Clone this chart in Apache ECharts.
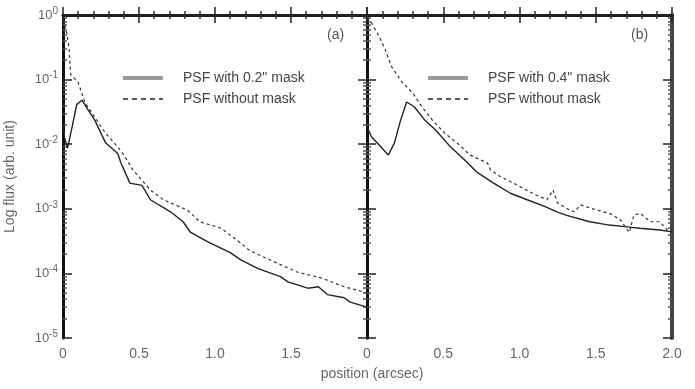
<!DOCTYPE html>
<html>
<head>
<meta charset="utf-8">
<script src="https://cdn.jsdelivr.net/npm/echarts@6/dist/echarts.min.js"></script>
<style>html,body{margin:0;padding:0;background:#fff}#c{width:695px;height:389px}</style>
</head>
<body>
<div id="c"></div>
<script>
// ---- data ----
var nameMaskA = 'PSF with 0.2" mask';
var nameMaskB = 'PSF with 0.4" mask';
var nameOpen = 'PSF without mask';
var panelTags = ['(a)', '(b)'];
var xTickLabelsA = ['0', '0.5', '1.0', '1.5'];
var xTickLabelsB = ['0', '0.5', '1.0', '1.5', '2.0'];
var yDecades = [-5, -4, -3, -2, -1, 0];

var posMaskA = [0, 0.01, 0.03, 0.06, 0.09, 0.11, 0.125, 0.165, 0.21, 0.28, 0.36, 0.38, 0.44, 0.52, 0.575, 0.71, 0.79, 0.84, 0.95, 1.10, 1.17, 1.28, 1.43, 1.48, 1.61, 1.68, 1.74, 1.85, 1.89, 2.0];
var valMaskA = [0.020, 0.0126, 0.0087, 0.0186, 0.041, 0.045, 0.048, 0.034, 0.0234, 0.0105, 0.0072, 0.0052, 0.0025, 0.0023, 0.00138, 0.00089, 0.00063, 0.00043, 0.00031, 0.00021, 0.000162, 0.00012, 0.000089, 0.000074, 0.000059, 0.000062, 0.000047, 0.000042, 0.000036, 0.00003];

var posOpenA = [0, 0.01, 0.026, 0.04, 0.05, 0.1, 0.145, 0.21, 0.28, 0.36, 0.41, 0.46, 0.575, 0.66, 0.82, 0.9, 1.04, 1.15, 1.23, 1.39, 1.54, 1.7, 1.85, 2.0];
var valOpenA = [0.85, 0.8, 0.52, 0.3, 0.12, 0.09, 0.044, 0.026, 0.0148, 0.0091, 0.0063, 0.004, 0.00195, 0.00138, 0.00095, 0.00063, 0.0005, 0.00032, 0.000224, 0.000151, 0.000105, 0.000085, 0.000062, 0.00005];

var posMaskB = [0, 0.03, 0.066, 0.14, 0.18, 0.22, 0.26, 0.31, 0.38, 0.45, 0.54, 0.63, 0.72, 0.83, 0.94, 1.05, 1.16, 1.25, 1.31, 1.46, 1.59, 1.72, 1.79, 1.92, 2.0];
var valMaskB = [0.0186, 0.0129, 0.0105, 0.0068, 0.0105, 0.0234, 0.045, 0.038, 0.0234, 0.0166, 0.0095, 0.006, 0.0037, 0.0025, 0.00174, 0.00138, 0.0011, 0.00089, 0.00079, 0.00063, 0.00056, 0.00052, 0.0005, 0.00047, 0.00044];

var posOpenB = [0, 0.03, 0.08, 0.12, 0.16, 0.23, 0.3, 0.36, 0.43, 0.51, 0.6, 0.675, 0.79, 0.81, 0.87, 0.96, 1.02, 1.11, 1.18, 1.22, 1.25, 1.33, 1.36, 1.40, 1.44, 1.51, 1.59, 1.66, 1.72, 1.75, 1.79, 1.86, 1.92, 1.97, 2.0];
var valOpenB = [0.9, 0.76, 0.46, 0.29, 0.16, 0.091, 0.062, 0.038, 0.0234, 0.0148, 0.01, 0.0068, 0.0051, 0.004, 0.0032, 0.0025, 0.0021, 0.00162, 0.00138, 0.00195, 0.00123, 0.00095, 0.0009, 0.00115, 0.00107, 0.00095, 0.00085, 0.00068, 0.00043, 0.0008, 0.00085, 0.00063, 0.00063, 0.00047, 0.0005];

// ---- build ----
function pairs(xs, ys) { return xs.map(function (x, i) { return [x, ys[i]]; }); }
var minorLog = [];
yDecades.forEach(function (d) {
  if (d < 0) for (var k = 2; k <= 9; k++) minorLog.push(d + Math.log10(k));
});

var FONT = 'Liberation Sans, Arial, sans-serif';
var AX = '#111';
var GRID_TOP = 15, GRID_H = 323;

function xAxes(gi, labels) {
  var base = {
    type: 'value', gridIndex: gi, min: 0, max: 2, interval: 0.5,
    axisLine: { show: true, lineStyle: { color: AX, width: 3 } },
    axisTick: { show: true, inside: true, length: 8, lineStyle: { color: '#222', width: 1.5 } },
    minorTick: { show: true, splitNumber: 5, length: 4, lineStyle: { color: '#333', width: 1.5 } },
    splitLine: { show: false }, minorSplitLine: { show: false }
  };
  var bottom = Object.assign({}, base, {
    position: 'bottom',
    axisLabel: {
      show: true, color: '#666', fontFamily: FONT, fontSize: 14, margin: 9,
      formatter: function (v) { var i = Math.round(v / 0.5); return labels[i] === undefined ? '' : labels[i]; }
    }
  });
  var top = Object.assign({}, base, { position: 'top', axisLabel: { show: false },
    axisLine: { show: true, lineStyle: { color: '#222', width: 2.5 } } });
  return [bottom, top];
}

function yAxes(gi, withLabels, rightColor) {
  var major = {
    type: 'log', logBase: 10, gridIndex: gi, min: 1e-5, max: 1,
    axisLine: { show: true, lineStyle: { color: AX, width: 3 } },
    axisTick: { show: true, inside: true, length: 9, lineStyle: { color: '#222', width: 1.5 } },
    splitLine: { show: false }, minorTick: { show: false }
  };
  var minor = {
    type: 'value', gridIndex: gi, min: -5, max: 0,
    axisLine: { show: false }, splitLine: { show: false },
    axisLabel: { show: false },
    axisTick: { show: true, inside: true, length: 4, customValues: minorLog, lineStyle: { color: '#555', width: 1.5 } }
  };
  var left = Object.assign({}, major, { position: 'left',
    axisLabel: withLabels ? {
      show: true, color: '#666', fontFamily: FONT, fontSize: 13, margin: 5,
      formatter: function (v) { return '{b|10}{s|' + Math.round(Math.log10(v)) + '}'; },
      rich: { b: { fontSize: 13, color: '#666', fontFamily: FONT }, s: { fontSize: 10, color: '#666', fontFamily: FONT, padding: [0, 0, 8, 0] } }
    } : { show: false },
    name: withLabels ? 'Log flux (arb. unit)' : '', nameLocation: 'middle', nameGap: 46,
    nameTextStyle: { color: '#666', fontFamily: FONT, fontSize: 14 }
  });
  var leftMinor = Object.assign({}, minor, { position: 'left' });
  var right = Object.assign({}, major, { position: 'right', axisLabel: { show: false },
    axisLine: { show: true, lineStyle: { color: rightColor, width: rightColor === AX ? 3 : 4 } } });
  var rightMinor = Object.assign({}, minor, { position: 'right' });
  return [left, leftMinor, right, rightMinor];
}

function legendAt(left, maskName) {
  return {
    left: left, top: 66, orient: 'vertical', itemWidth: 40, itemHeight: 14, itemGap: 7,
    textStyle: { color: '#444', fontFamily: FONT, fontSize: 14, padding: [0, 0, 0, 15] },
    data: [
      { name: maskName, itemStyle: { opacity: 0 }, lineStyle: { color: '#999', width: 4, type: 'solid' } },
      { name: nameOpen, itemStyle: { opacity: 0 }, lineStyle: { color: '#222', width: 1.5, type: [5, 4] } }
    ]
  };
}

var option = {
  animation: false,
  backgroundColor: '#fff',
  grid: [
    { left: 63, top: GRID_TOP, width: 304, height: GRID_H, containLabel: false },
    { left: 367, top: GRID_TOP, width: 305, height: GRID_H, containLabel: false }
  ],
  xAxis: xAxes(0, xTickLabelsA).concat(xAxes(1, xTickLabelsB)),
  yAxis: yAxes(0, true, AX).concat(yAxes(1, false, '#444')),
  title: {
    text: 'position (arcsec)', left: 367, top: 362, textAlign: 'center',
    textStyle: { color: '#666', fontFamily: FONT, fontSize: 14, fontWeight: 'normal' }
  },
  legend: [legendAt(116, nameMaskA), legendAt(421, nameMaskB)],
  graphic: [
    { type: 'text', left: 327, top: 28, style: { text: panelTags[0], fill: '#555', font: '14px ' + FONT } },
    { type: 'text', left: 631, top: 28, style: { text: panelTags[1], fill: '#555', font: '14px ' + FONT } }
  ],
  series: [
    { name: nameMaskA, type: 'line', xAxisIndex: 0, yAxisIndex: 0, data: pairs(posMaskA, valMaskA),
      symbol: 'none', lineStyle: { color: '#222', width: 1.4 }, itemStyle: { color: '#222' } },
    { name: nameOpen, type: 'line', xAxisIndex: 0, yAxisIndex: 0, data: pairs(posOpenA, valOpenA),
      symbol: 'none', lineStyle: { color: '#333', width: 1.2, type: [3, 3] }, itemStyle: { color: '#333' } },
    { name: nameMaskB, type: 'line', xAxisIndex: 2, yAxisIndex: 4, data: pairs(posMaskB, valMaskB),
      symbol: 'none', lineStyle: { color: '#222', width: 1.4 }, itemStyle: { color: '#222' } },
    { name: nameOpen, type: 'line', xAxisIndex: 2, yAxisIndex: 4, data: pairs(posOpenB, valOpenB),
      symbol: 'none', lineStyle: { color: '#333', width: 1.2, type: [3, 3] }, itemStyle: { color: '#333' } }
  ]
};
var chart = echarts.init(document.getElementById('c'), null, { renderer: 'canvas' });
chart.setOption(option);
</script>
</body>
</html>
